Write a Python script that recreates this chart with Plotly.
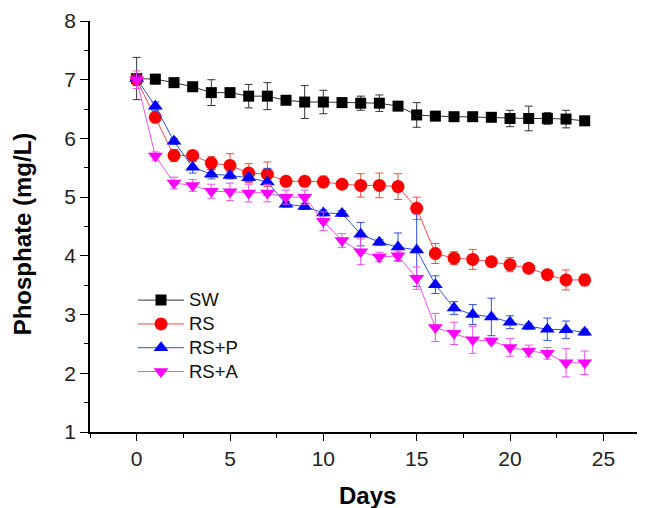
import plotly.graph_objects as go

days = list(range(25))

sw = [7.02, 7.01, 6.95, 6.88, 6.78, 6.78, 6.72, 6.72, 6.65, 6.62, 6.62, 6.61, 6.60,
      6.60, 6.55, 6.40, 6.38, 6.37, 6.37, 6.36, 6.34, 6.34, 6.34, 6.33, 6.30]
sw_err = [0.36, 0.08, 0.05, 0.05, 0.22, 0.07, 0.20, 0.23, 0.05, 0.28, 0.20, 0.05, 0.12,
          0.14, 0.07, 0.21, 0.05, 0.03, 0.03, 0.05, 0.14, 0.21, 0.10, 0.15, 0.04]

rs = [7.00, 6.36, 5.71, 5.71, 5.58, 5.54, 5.41, 5.39, 5.27, 5.27, 5.26, 5.22, 5.20,
      5.20, 5.18, 4.81, 4.04, 3.96, 3.94, 3.90, 3.85, 3.79, 3.68, 3.59, 3.59]
rs_err = [0.10, 0.06, 0.10, 0.08, 0.11, 0.20, 0.16, 0.21, 0.08, 0.08, 0.10, 0.05, 0.20,
          0.21, 0.22, 0.19, 0.17, 0.11, 0.17, 0.03, 0.12, 0.04, 0.04, 0.17, 0.10]

rsp = [7.02, 6.55, 5.95, 5.51, 5.39, 5.37, 5.33, 5.26, 4.88, 4.84, 4.73, 4.72, 4.37,
       4.23, 4.15, 4.10, 3.51, 3.11, 3.00, 2.96, 2.87, 2.80, 2.75, 2.74, 2.70]
rsp_err = [0.05, 0.07, 0.05, 0.10, 0.08, 0.06, 0.06, 0.23, 0.05, 0.05, 0.05, 0.05, 0.20,
           0.05, 0.24, 0.62, 0.15, 0.11, 0.17, 0.32, 0.11, 0.05, 0.19, 0.15, 0.05]

rsa = [7.00, 5.70, 5.24, 5.20, 5.10, 5.09, 5.07, 5.07, 5.00, 5.00, 4.59, 4.26, 4.07,
       3.98, 4.00, 3.62, 2.78, 2.68, 2.57, 2.55, 2.44, 2.38, 2.34, 2.18, 2.18]
rsa_err = [0.15, 0.07, 0.10, 0.10, 0.12, 0.15, 0.15, 0.15, 0.12, 0.12, 0.16, 0.12, 0.22,
           0.08, 0.08, 0.19, 0.24, 0.19, 0.23, 0.05, 0.15, 0.10, 0.10, 0.24, 0.20]

names = ["SW", "RS", "RS+P", "RS+A"]
x_title = "Days"
y_title = "Phosphate (mg/L)"

series = [
    (names[0], sw, sw_err, "#000000", "#333333", "square", 11),
    (names[1], rs, rs_err, "#FF0000", "#E8504A", "circle", 13),
    (names[2], rsp, rsp_err, "#0000FF", "#3050E0", "triangle-up", 13),
    (names[3], rsa, rsa_err, "#FF00FF", "#F050F0", "triangle-down", 13),
]

fig = go.Figure()
for name, vals, errs, mcol, lcol, sym, size in series:
    fig.add_trace(go.Scatter(
        x=days, y=vals, name=f"<span style='font-size:18.5px'>{name}</span>",
        mode="lines+markers",
        line=dict(color=lcol, width=1),
        marker=dict(symbol=sym, size=size, color=mcol, line=dict(width=0)),
        error_y=dict(type="data", array=errs, visible=True, color=lcol,
                     thickness=1, width=4),
    ))

fam = "Liberation Sans, Arial"
axis_font = dict(family=fam, size=21, color="#222222")
title_font = dict(family=fam, size=24, color="#000000")

fig.update_layout(
    width=637, height=500,
    margin=dict(l=82, r=0, t=13, b=76),
    paper_bgcolor="white", plot_bgcolor="white",
    showlegend=True,
    legend=dict(x=0.0775, y=0.362, xanchor="left", yanchor="top", itemwidth=46,
                font=dict(family=fam, size=16, color="#111111"),
                bgcolor="rgba(0,0,0,0)", tracegroupgap=0),
    xaxis=dict(range=[-2.5, 27.23], tickvals=[0, 5, 10, 15, 20, 25],
               showgrid=False, zeroline=False, showline=True, linecolor="#000000",
               linewidth=1.5, ticks="outside", ticklen=7, tickcolor="#000000",
               tickfont=axis_font, automargin=False,
               minor=dict(ticks="outside", ticklen=4, dtick=2.5, tick0=0,
                          tickcolor="#000000", showgrid=False)),
    yaxis=dict(range=[1, 8], tickvals=[1, 2, 3, 4, 5, 6, 7, 8],
               showgrid=False, zeroline=False, showline=True, linecolor="#000000",
               linewidth=1.5, ticks="outside", ticklen=8, tickcolor="#000000",
               tickfont=axis_font, automargin=False,
               minor=dict(ticks="outside", ticklen=4, dtick=0.5, tick0=1,
                          tickcolor="#000000", showgrid=False)),
    annotations=[
        dict(text=f"<b>{y_title}</b>", xref="paper", yref="paper", x=-0.1225, y=0.481,
             xanchor="center", yanchor="middle", textangle=-90, showarrow=False,
             font=title_font),
        dict(text=f"<b>{x_title}</b>", xref="paper", yref="paper", x=0.5, y=-0.154,
             xanchor="center", yanchor="middle", showarrow=False, font=title_font),
    ],
)

fig.write_html("out.html")
